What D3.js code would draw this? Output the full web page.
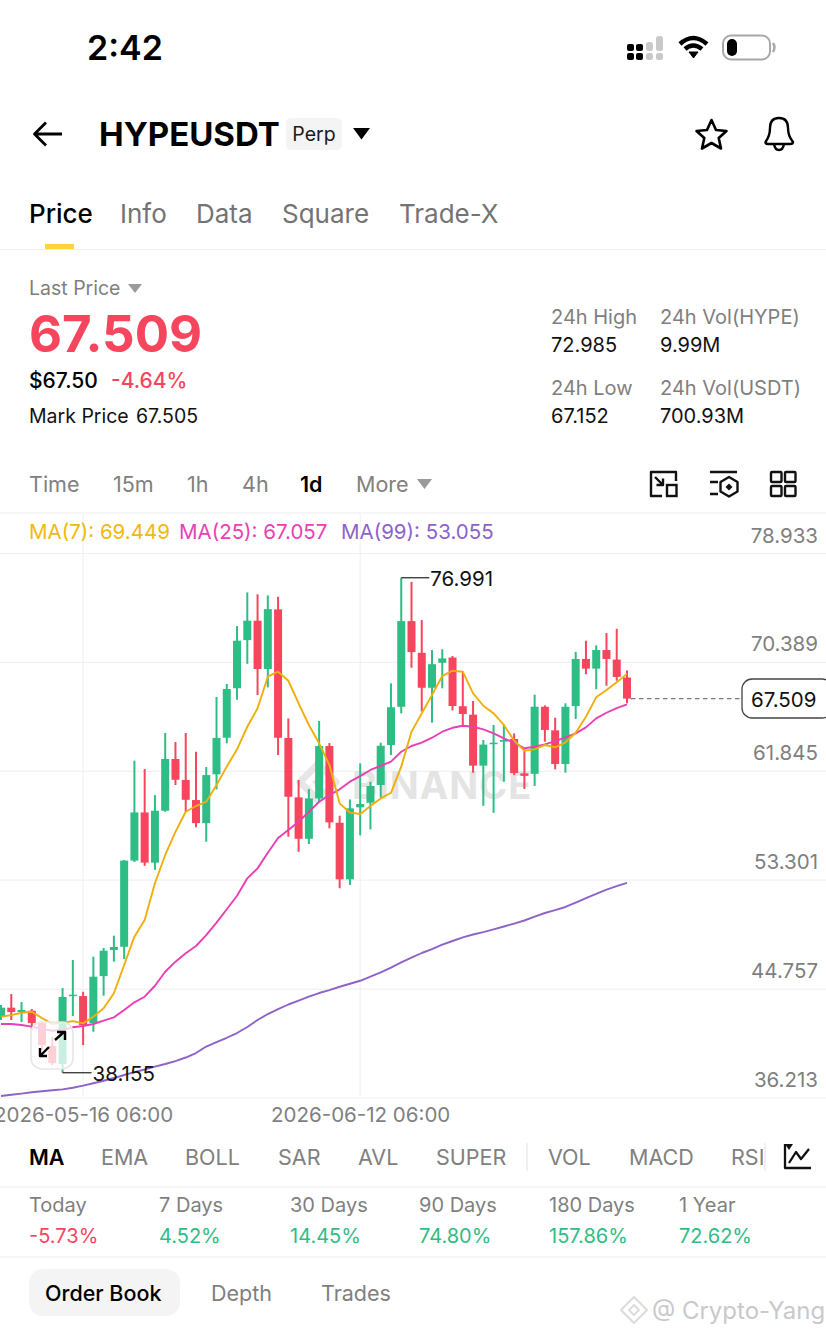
<!DOCTYPE html>
<html><head><meta charset="utf-8">
<script src="https://cdn.jsdelivr.net/npm/d3@7/dist/d3.min.js"></script>
<style>html,body{margin:0;padding:0;background:#fff;overflow:hidden}svg{display:block}text{font-family:Inter,"Noto Sans",sans-serif}</style>
</head><body><svg id="c" width="826" height="1335"></svg>
<script>
const dates=["05-08","05-09","05-10","05-11","05-12","05-13","05-14","05-15","05-16","05-17","05-18","05-19","05-20","05-21","05-22","05-23","05-24","05-25","05-26","05-27","05-28","05-29","05-30","05-31","06-01","06-02","06-03","06-04","06-05","06-06","06-07","06-08","06-09","06-10","06-11","06-12","06-13","06-14","06-15","06-16","06-17","06-18","06-19","06-20","06-21","06-22","06-23","06-24","06-25","06-26","06-27","06-28","06-29","06-30","07-01","07-02","07-03","07-04","07-05","07-06","07-07","07-08"];
const opens=[42.55,43.26,42.92,43.02,42.05,40.25,38.84,44.17,44.17,42.05,45.74,47.78,48.04,54.80,58.58,54.64,58.71,62.77,61.12,59.55,57.74,61.57,64.44,68.32,72.10,73.62,69.83,74.51,64.42,59.76,56.51,59.68,63.79,57.77,53.33,58.98,59.34,60.73,63.87,66.87,73.59,71.10,68.36,70.32,70.73,66.91,66.25,62.25,63.97,64.13,64.34,61.64,61.61,66.87,65.02,62.38,66.93,70.62,69.86,71.32,70.57,69.16];
const closes=[43.26,42.92,43.08,42.05,40.33,38.91,44.10,44.28,41.90,45.69,47.73,48.02,54.80,58.58,54.64,58.71,62.77,61.14,59.57,57.74,61.51,64.42,68.26,72.05,73.62,69.83,74.53,64.44,59.81,56.51,59.68,63.79,57.80,53.33,58.90,59.24,60.65,63.81,66.83,73.59,71.16,68.36,70.21,70.66,66.93,66.30,62.25,63.90,64.05,64.26,61.67,61.45,66.87,65.05,62.38,66.87,70.62,69.86,71.32,70.62,69.21,67.509];
const highs=[43.47,44.33,43.70,43.15,42.13,40.96,44.80,47.00,44.51,47.26,47.94,48.91,54.85,62.64,61.98,59.94,64.81,64.10,64.81,63.34,62.14,67.64,68.66,73.20,75.84,75.69,75.61,75.50,65.95,61.12,60.41,65.75,64.02,58.32,59.60,62.43,60.98,64.05,68.71,76.991,76.67,73.67,71.32,71.38,70.85,69.62,67.32,64.26,65.44,65.49,64.78,63.61,67.82,66.98,66.01,67.14,71.18,72.05,71.69,72.65,72.985,69.71];
const lows=[42.29,42.29,42.13,41.51,39.94,38.76,38.155,42.60,40.33,41.37,44.20,46.87,47.07,54.69,54.39,54.08,58.63,60.73,58.63,57.41,56.28,60.39,64.00,67.42,70.24,67.79,68.39,63.08,56.67,55.49,56.10,59.42,57.33,52.63,52.89,56.78,57.25,59.76,63.08,66.35,69.93,66.50,65.62,68.32,66.58,65.44,61.70,59.10,58.55,60.98,61.51,60.42,60.65,64.13,61.96,61.70,65.91,69.42,68.24,68.52,68.91,67.152];
const ma7=[42.55,42.68,42.86,42.94,42.44,41.99,42.08,42.21,42.03,42.55,43.21,44.39,46.61,48.83,50.14,53.02,55.24,57.05,58.63,59.08,59.42,60.73,62.17,63.53,65.30,66.75,69.23,69.62,68.91,67.14,65.44,64.00,62.30,59.29,58.56,58.46,59.08,59.68,60.12,62.17,64.91,66.35,67.79,69.28,69.70,69.62,67.92,66.95,66.35,65.44,64.21,63.42,63.53,63.87,63.69,64.08,64.83,66.09,67.61,68.18,68.79,69.449];
const ma25=[41.98,41.98,41.90,41.77,41.59,41.45,41.51,41.72,41.82,41.98,42.24,42.50,43.08,43.68,44.12,44.98,46.08,46.87,47.53,48.10,48.96,49.93,50.98,52.04,53.41,54.19,55.42,56.57,57.20,57.85,58.63,59.42,59.94,60.39,60.99,61.43,61.91,62.24,62.56,63.34,63.79,64.05,64.44,64.91,65.22,65.38,65.30,65.10,64.78,64.39,64.05,63.61,63.73,63.92,64.18,64.47,64.78,65.25,65.96,66.40,66.77,67.057];
const ma99=[36.33,36.43,36.52,36.62,36.70,36.78,36.85,36.98,37.14,37.33,37.53,37.74,37.98,38.21,38.41,38.63,38.84,39.07,39.35,39.70,40.21,40.56,40.90,41.27,41.74,42.29,42.76,43.15,43.51,43.82,44.12,44.41,44.64,44.90,45.14,45.37,45.69,46.03,46.41,46.82,47.18,47.55,47.86,48.21,48.49,48.78,49.00,49.19,49.41,49.63,49.86,50.10,50.41,50.69,50.92,51.16,51.51,51.86,52.18,52.53,52.80,53.055];
const priceTicks=[78.933,70.389,61.845,53.301,44.757,36.213];
const timeTickDates=["05-16","06-12"];
const timeTickLabels=["2026-05-16 06:00","2026-06-12 06:00"];
const lastPrice=67.509, highMark=76.991, lowMark=38.155;
const tabs=["Price","Info","Data","Square","Trade-X"];
const intervals=["Time","15m","1h","4h","1d","More"];
const indicators=["MA","EMA","BOLL","SAR","AVL","SUPER","VOL","MACD","RSI"];
const periods=["Today","7 Days","30 Days","90 Days","180 Days","1 Year"];
const periodValues=["-5.73%","4.52%","14.45%","74.80%","157.86%","72.62%"];

const GREEN="#2ebd85",RED="#f6465d",GREY="#7f7f7f",GRID="#f1f1f1",INK="#111";
const svg=d3.select("#c");
const x=d3.scalePoint().domain(dates).range([1,627]);
const y=d3.scaleLinear().domain([78.933,36.213]).range([553,1097.5]);
function T(s,px,py,size,opt={}){
  return svg.append("text").attr("x",px).attr("y",py).attr("dominant-baseline","central")
    .attr("font-size",size).attr("font-weight",opt.w||400).attr("fill",opt.c||GREY)
    .attr("text-anchor",opt.a||"start").attr("letter-spacing",opt.ls||0).attr("opacity",opt.o||1).text(s);
}
function P(d,opt={}){return svg.append("path").attr("d",d).attr("fill",opt.f||"none").attr("stroke",opt.s||"none").attr("stroke-width",opt.sw||0).attr("stroke-linecap",opt.cap||"butt").attr("stroke-linejoin","round");}
function H(y0,x0=0,x1=826,c="#eeeeee"){svg.append("line").attr("x1",x0).attr("x2",x1).attr("y1",y0).attr("y2",y0).attr("stroke",c).attr("stroke-width",1.2);}

/* status bar */
T("2:42",87,47,34,{w:600,c:"#000"});
[[627,44],[627,53],[636,44],[636,53]].forEach(p=>svg.append("rect").attr("x",p[0]).attr("y",p[1]).attr("width",7).attr("height",7).attr("rx",2).attr("fill","#000"));
[[646,42,9],[646,53,7],[656,36,15],[656,53,7]].forEach(p=>svg.append("rect").attr("x",p[0]).attr("y",p[1]).attr("width",7).attr("height",p[2]).attr("rx",2.5).attr("fill","#c9c9c9"));
P("M680 44 Q693 32 707 44",{s:"#000",sw:4.5});P("M685 49 Q693 42 702 49",{s:"#000",sw:4.5});P("M689 52 L698 52 L693.5 58 Z",{f:"#000",s:"#000",sw:1});
svg.append("rect").attr("x",723).attr("y",35.5).attr("width",47).attr("height",24).attr("rx",8).attr("fill","none").attr("stroke","#a8a8a8").attr("stroke-width",2);
svg.append("rect").attr("x",727).attr("y",39).attr("width",10).attr("height",17).attr("rx",5).attr("fill","#000");
P("M773 43 Q776 47.5 773 52",{s:"#a8a8a8",sw:2.5});

/* header */
P("M62 134 H36 M46 122.5 L34.5 134 L46 145.5",{s:"#000",sw:2.8});
T("HYPEUSDT",99,134,33,{w:700,c:"#000"});
svg.append("rect").attr("x",286).attr("y",118).attr("width",56).attr("height",32).attr("rx",5).attr("fill","#f4f4f4");
T("Perp",314,134,19.5,{a:"middle",c:"#1a1a1a"});
P("M353 128 H370 L361.5 139.5 Z",{f:"#000"});
P("M711.5 120 L716 130 L726.5 131 L718.7 138 L721 148.5 L711.5 143 L702 148.5 L704.3 138 L696.5 131 L707 130 Z",{s:"#000",sw:2.6});
P("M765.5 142 Q770 136 770 128 Q770 118 779 118 Q788 118 788 128 Q788 136 793 142 Q793 144 790 144 H768 Q765.5 144 765.5 142 Z M774 144 Q775 150 779 150 Q783 150 784 144",{s:"#000",sw:2.4});

/* tabs */
const tabX=[29,120,196,282,399];
tabs.forEach((t,i)=>T(t,tabX[i],213,26,{w:i==0?500:400,c:i==0?"#000":"#737373"}));
svg.append("rect").attr("x",45).attr("y",244).attr("width",29).attr("height",5).attr("fill","#fcd535");
H(249.5);

/* price block */
T("Last Price",29,288,19.5);P("M128 284 H142 L135 293 Z",{f:"#9a9a9a"});
T("67.509",29,333,51,{w:700,c:RED});
T("$67.50",29,380,21,{w:500,c:"#000"});T("-4.64%",111,380,21,{w:500,c:RED});
T("Mark Price",29,416,19.5,{c:"#111"});T("67.505",136,416,19.5,{c:"#111"});
T("24h High",551,317,20);T("72.985",551,345,20,{c:"#111"});
T("24h Low",551,388,20);T("67.152",551,416,20,{c:"#111"});
T("24h Vol(HYPE)",660,317,20);T("9.99M",660,345,20,{c:"#111"});
T("24h Vol(USDT)",660,388,20);T("700.93M",660,416,20,{c:"#111"});

/* intervals */
const intX=[29,113,187,242,300,356];
intervals.forEach((t,i)=>T(t,intX[i],484,21.5,{w:i==4?600:400,c:i==4?"#000":"#808080"}));
P("M417 479 H432 L424.5 489 Z",{f:"#9a9a9a"});
P("M668 472 H651 V496 H662 M668 472 H676 V481 M655 477 L663 485 M663 478.5 V485 H656.5",{s:"#111",sw:2.4});
svg.append("rect").attr("x",667).attr("y",485).attr("width",9.5).attr("height",11).attr("fill","none").attr("stroke","#111").attr("stroke-width",2.4);
P("M710 472 H737 M710 482 H718 M710 494 H718",{s:"#111",sw:2.4});
P("M729 477 L737.5 482 V491.5 L729 496.5 L720.5 491.5 V482 Z",{s:"#111",sw:2.4});P("M729 483.5 L732.5 487 L729 490.5 L725.5 487 Z",{f:"#111"});
[[771,472],[785,472],[771,486],[785,486]].forEach(p=>svg.append("rect").attr("x",p[0]).attr("y",p[1]).attr("width",10.5).attr("height",10).attr("rx",1).attr("fill","none").attr("stroke","#111").attr("stroke-width",2.4));
H(513);

/* grid + axes */
const gridX=svg.append("g").selectAll("line").data(timeTickDates).join("line")
  .attr("x1",d=>x(d)).attr("x2",d=>x(d)).attr("y1",513).attr("y2",1097).attr("stroke",GRID).attr("stroke-width",1.2);
const yAxis=d3.axisRight(y).tickValues(priceTicks).tickSize(826).tickFormat(d3.format(".3f"));
const gy=svg.append("g").call(yAxis);
gy.select(".domain").remove();
gy.selectAll(".tick line").attr("stroke",GRID).attr("stroke-width",1.2);
gy.selectAll(".tick text").attr("x",818).attr("y",-11).attr("dy",0).attr("text-anchor","end")
  .attr("font-size",20.5).attr("fill",GREY).attr("font-family","Inter");
const xAxis=d3.axisBottom(x).tickValues(timeTickDates).tickSize(0).tickFormat(d=>timeTickLabels[timeTickDates.indexOf(d)]);
const gx=svg.append("g").attr("transform","translate(0,1097)").call(xAxis);
gx.select(".domain").remove();
gx.selectAll(".tick text").attr("y",18).attr("dy","0.32em").attr("font-size",20.5).attr("fill",GREY).attr("font-family","Inter");

/* BINANCE watermark */
P("M318 764 L336 782 L318 800 L300 782 Z",{s:"#e6e6e6",sw:7});
P("M318 776 L324 782 L318 788 L312 782 Z",{f:"#e6e6e6"});
T("BINANCE",352,785,38,{w:700,c:"#e4e4e4",ls:1});

/* candles */
const candles=dates.map((d,i)=>({d,o:opens[i],c:closes[i],h:highs[i],l:lows[i]}));
const g=svg.append("g");
g.selectAll("line").data(candles).join("line")
  .attr("x1",d=>x(d.d)).attr("x2",d=>x(d.d)).attr("y1",d=>y(d.h)).attr("y2",d=>y(d.l))
  .attr("stroke",d=>d.c>=d.o?GREEN:RED).attr("stroke-width",2);
g.selectAll("rect").data(candles).join("rect")
  .attr("x",d=>x(d.d)-4).attr("width",8)
  .attr("y",d=>y(Math.max(d.o,d.c))).attr("height",d=>Math.max(1.5,Math.abs(y(d.o)-y(d.c))))
  .attr("fill",d=>d.c>=d.o?GREEN:RED);

/* moving averages */
const line=d3.line().x((v,i)=>x(dates[i])).y(v=>y(v));
[[ma99,"#8d62c9"],[ma25,"#ea3fb4"],[ma7,"#f0ae0a"]].forEach(([s,c])=>
  svg.append("path").attr("d",line(s)).attr("fill","none").attr("stroke",c).attr("stroke-width",1.9).attr("stroke-linejoin","round"));

/* high / low markers */
const xHi=x(dates[highs.indexOf(highMark)]),xLo=x(dates[lows.indexOf(lowMark)]);
svg.append("line").attr("x1",xHi).attr("x2",xHi+28).attr("y1",y(highMark)).attr("y2",y(highMark)).attr("stroke","#222").attr("stroke-width",1.2);
T(highMark.toFixed(3),xHi+29,y(highMark)+1,20.5,{c:"#111"});

/* expand button */
svg.append("rect").attr("x",31).attr("y",1022).attr("width",42).attr("height",47).attr("rx",11).attr("fill","#fff").attr("fill-opacity",.75).attr("stroke","#e6e6e6").attr("stroke-width",1.6);
P("M55 1040 L64 1032 M57 1032 H65 V1040",{s:"#000",sw:2.4});P("M49 1047 L40 1056 M47 1056 H40 V1048",{s:"#000",sw:2.4});
svg.append("line").attr("x1",xLo).attr("x2",xLo+29).attr("y1",y(lowMark)).attr("y2",y(lowMark)).attr("stroke","#222").attr("stroke-width",1.2);
T(lowMark.toFixed(3),xLo+30,y(lowMark)+1,20.5,{c:"#111"});

/* last price */
svg.append("line").attr("x1",x(dates[61])+4).attr("x2",742).attr("y1",y(lastPrice)).attr("y2",y(lastPrice)).attr("stroke","#777").attr("stroke-width",1.4).attr("stroke-dasharray","4.5 3.5");
svg.append("rect").attr("x",742).attr("y",679).attr("width",90).attr("height",39).attr("rx",10).attr("fill","#fff").attr("stroke","#444").attr("stroke-width",1.3);
T(lastPrice.toFixed(3),751,699,20.5,{c:"#111"});

/* MA legend */
T("MA(7): 69.449",29,531,20.5,{c:"#f0b90b"});
T("MA(25): 67.057",179,531,20.5,{c:"#ea3fb4"});
T("MA(99): 53.055",341,531,20.5,{c:"#8d62c9"});

/* indicators */
const indX=[29,101,185,278,358,436,548,629,731];
const clip=svg.append("clipPath").attr("id","ic").append("rect").attr("x",0).attr("y",1130).attr("width",763).attr("height",50);
indicators.forEach((t,i)=>T(t,indX[i],1157,21.5,{w:i==0?600:400,c:i==0?"#000":"#808080"}).attr("clip-path","url(#ic)"));
[527,765].forEach(v=>svg.append("line").attr("x1",v).attr("x2",v).attr("y1",1143).attr("y2",1171).attr("stroke","#e6e6e6").attr("stroke-width",1.2));
P("M785 1144 V1168 H811 M789 1163 L796 1152 L801 1159 L809 1149",{s:"#111",sw:2.3});P("M785 1144 H793 L789 1150 Z",{f:"#111"});
H(1187);

/* period returns */
const perX=[29,159,290,419,549,679];
periods.forEach((t,i)=>{T(t,perX[i],1205,20);T(periodValues[i],perX[i],1236,20,{c:periodValues[i][0]=="-"?RED:GREEN});});
H(1257);

/* bottom tabs */
svg.append("rect").attr("x",29).attr("y",1269).attr("width",151).attr("height",47).attr("rx",14).attr("fill","#f4f4f4");
T("Order Book",45,1293,21.5,{w:500,c:"#000"});
T("Depth",211,1293,21.5);T("Trades",321,1293,21.5);

/* source watermark */
P("M634 1297 L647 1310 L634 1323 L621 1310 Z",{s:"#dddddd",sw:2.2});P("M634 1305 L639 1310 L634 1315 L629 1310 Z",{s:"#dddddd",sw:2});
T("@ Crypto-Yang",652,1310,24,{c:"#c9c9c9"});
</script></body></html>
